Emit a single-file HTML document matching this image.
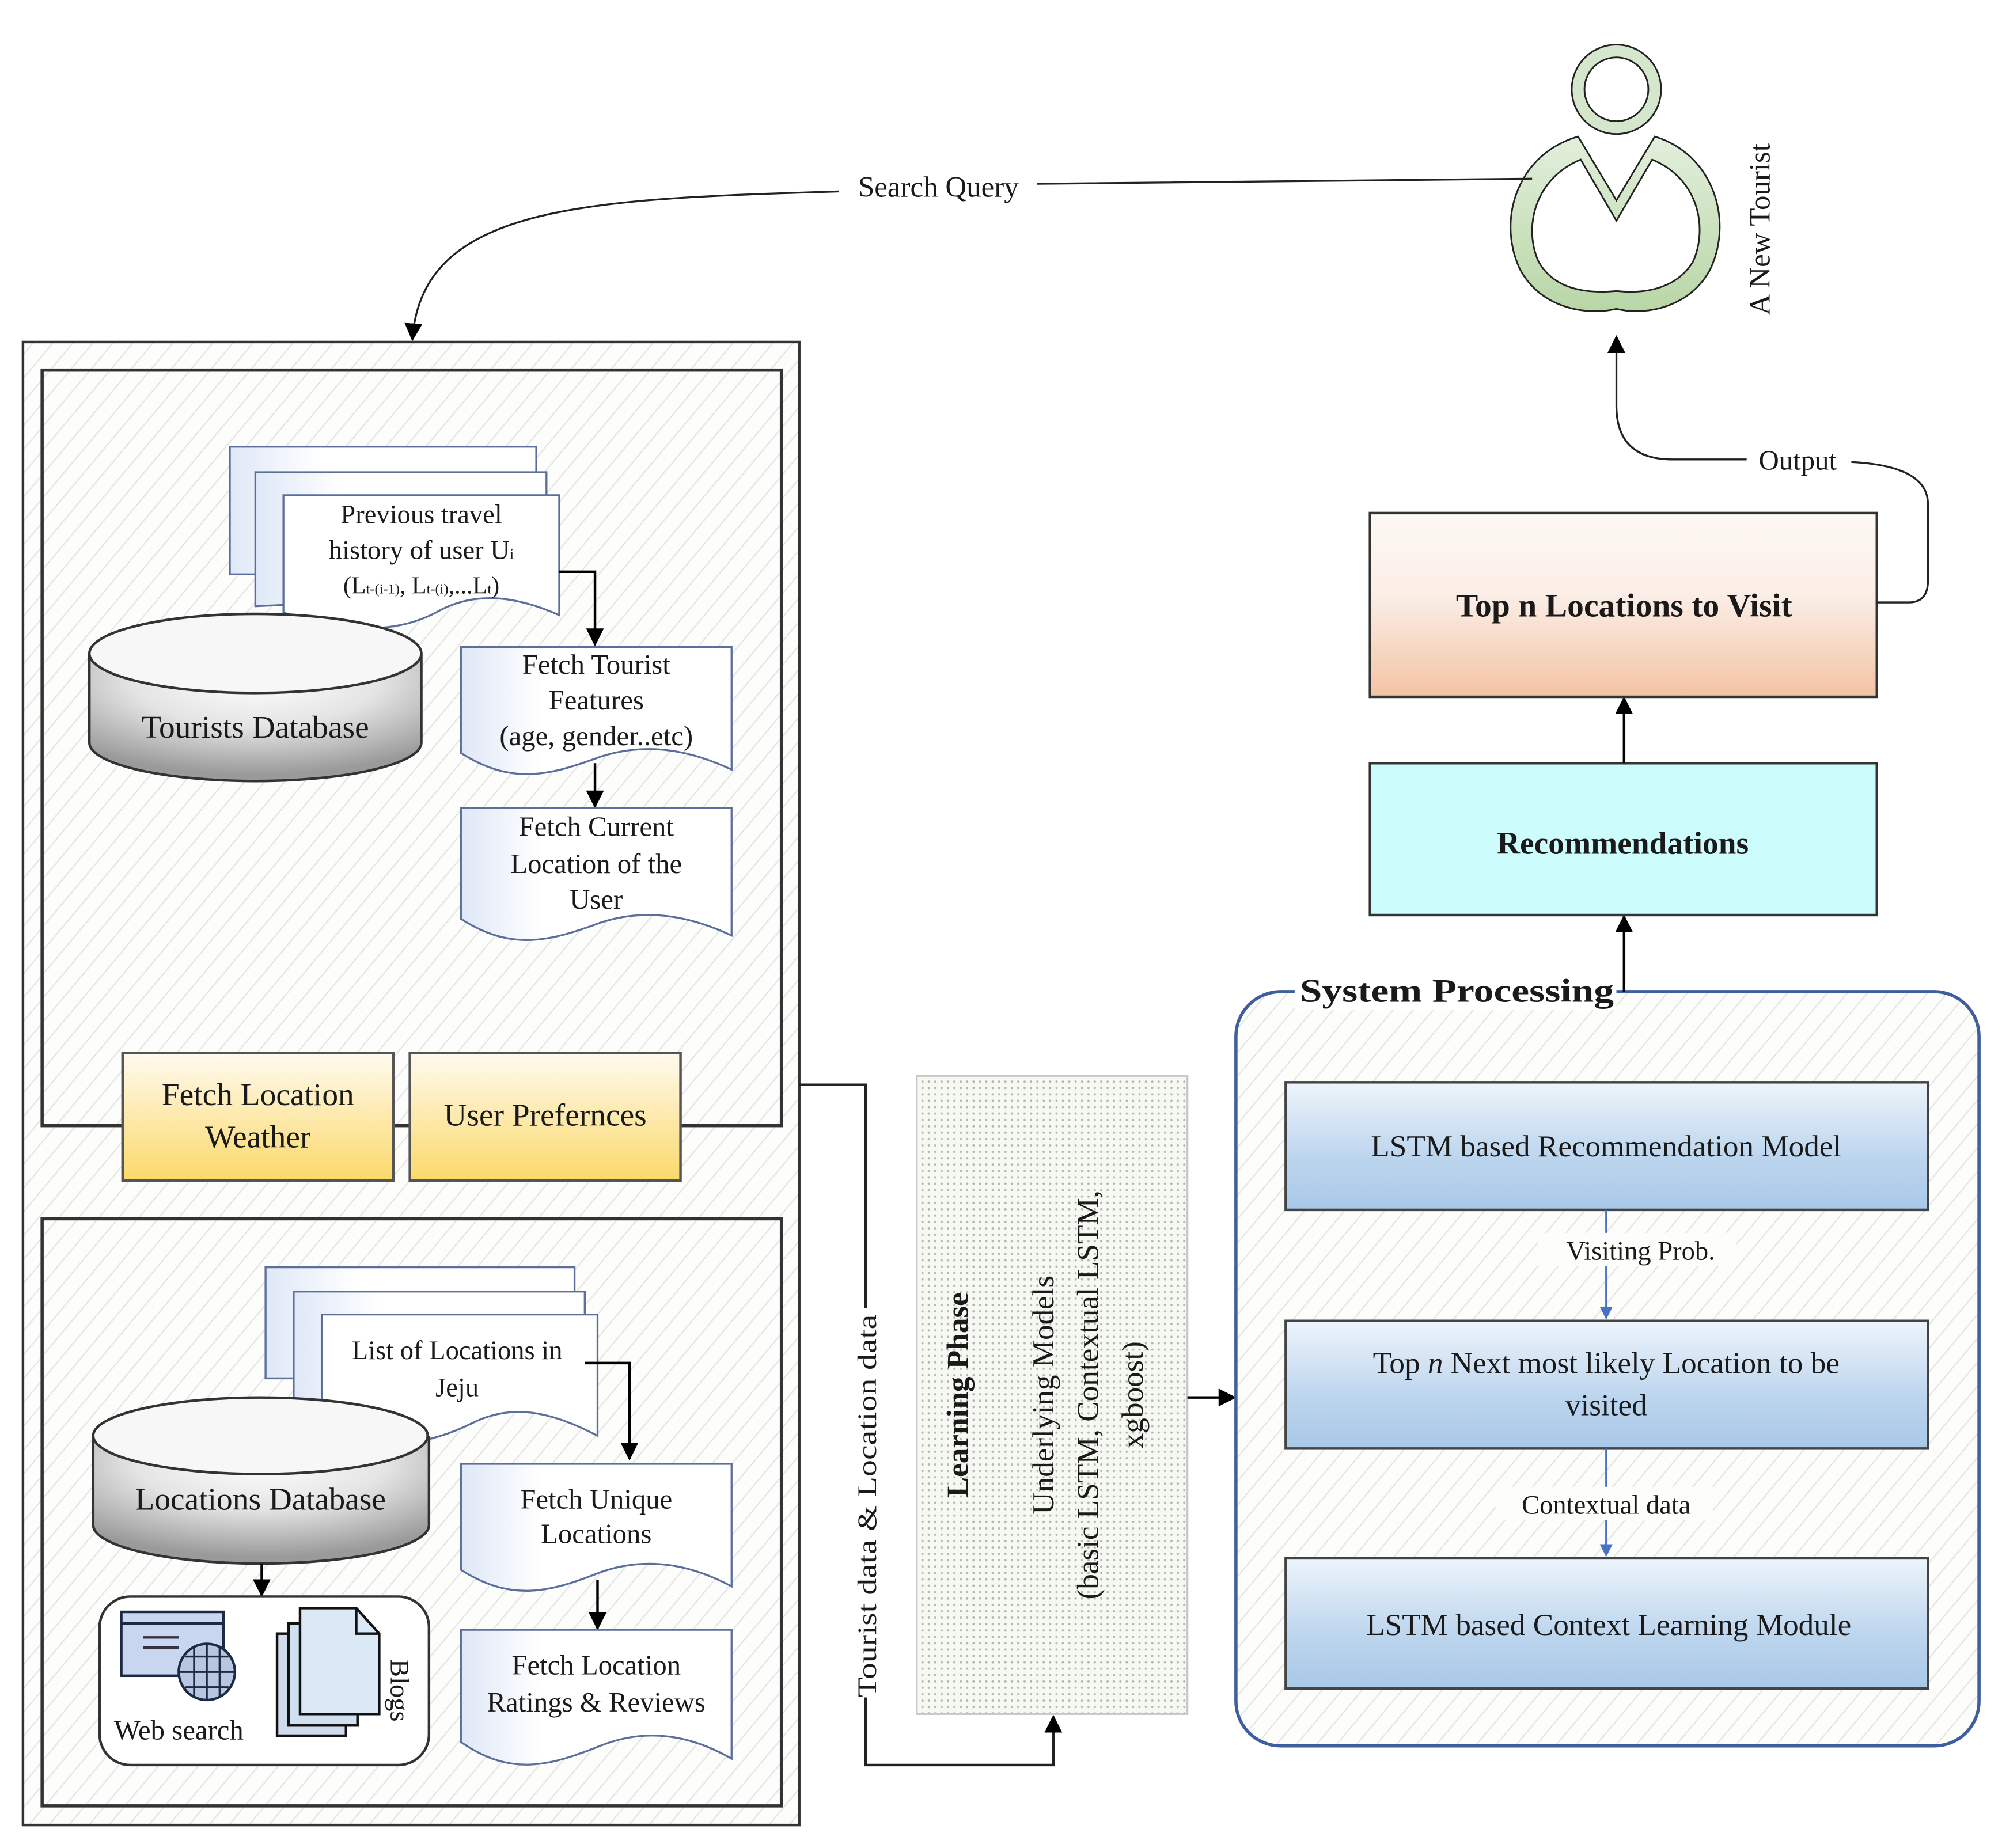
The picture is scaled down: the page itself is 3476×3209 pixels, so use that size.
<!DOCTYPE html>
<html><head><meta charset="utf-8"><style>
html,body{margin:0;padding:0;background:#fff;}
svg{display:block;}
text{font-family:"Liberation Serif",serif;fill:#1a1a1a;}
</style></head><body>
<svg width="3476" height="3209" viewBox="0 0 1568 1448" preserveAspectRatio="none" xmlns="http://www.w3.org/2000/svg">
<defs>
<pattern id="hatch" width="12" height="12" patternUnits="userSpaceOnUse" patternTransform="rotate(40)">
<rect width="12" height="12" fill="#fdfdfb"/><line x1="0" y1="0" x2="0" y2="12" stroke="#e4e4e4" stroke-width="2"/></pattern>
<pattern id="dots" width="5" height="5" patternUnits="userSpaceOnUse">
<rect width="5" height="5" fill="#f6f8f2"/><circle cx="2.5" cy="2.5" r="0.9" fill="#b5b8b0"/></pattern>
<linearGradient id="yel" x1="0" y1="0" x2="0" y2="1"><stop offset="0" stop-color="#fffaf0"/><stop offset="1" stop-color="#fbd96a"/></linearGradient>
<linearGradient id="blu" x1="0" y1="0" x2="0" y2="1"><stop offset="0" stop-color="#eef4fb"/><stop offset="0.6" stop-color="#bcd5ee"/><stop offset="1" stop-color="#a9c8e8"/></linearGradient>
<linearGradient id="pea" x1="0" y1="0" x2="0" y2="1"><stop offset="0" stop-color="#fdf8f4"/><stop offset="0.45" stop-color="#fbeee6"/><stop offset="1" stop-color="#f3c3a4"/></linearGradient>
<radialGradient id="cyl" cx="0.5" cy="0.2" r="0.75"><stop offset="0" stop-color="#ffffff"/><stop offset="0.5" stop-color="#e4e4e4"/><stop offset="1" stop-color="#9a9a9a"/></radialGradient>
<linearGradient id="doc" x1="0" y1="0" x2="1" y2="0"><stop offset="0" stop-color="#dfe8f7"/><stop offset="0.3" stop-color="#fff"/></linearGradient>
<linearGradient id="grn" x1="0" y1="0" x2="0" y2="1"><stop offset="0" stop-color="#e3efdc"/><stop offset="1" stop-color="#b8d6a6"/></linearGradient>
<marker id="arB" viewBox="0 0 10 10" refX="9" refY="5" markerWidth="10" markerHeight="10" orient="auto" markerUnits="userSpaceOnUse"><path d="M0,0 L10,5 L0,10 Z" fill="#4a72c4"/></marker>
<marker id="arL" viewBox="0 0 10 10" refX="9" refY="5" markerWidth="14" markerHeight="14" orient="auto" markerUnits="userSpaceOnUse"><path d="M0,0 L10,5 L0,10 Z" fill="#000"/></marker>
</defs>

<rect x="18" y="268" width="608" height="1162" fill="url(#hatch)" stroke="#333" stroke-width="2"/>
<rect x="33" y="290" width="579" height="592" fill="url(#hatch)" stroke="#333" stroke-width="2.5"/>
<rect x="33" y="955" width="579" height="460" fill="url(#hatch)" stroke="#333" stroke-width="2.5"/>

<g stroke="#5b6f9a" stroke-width="1.5" fill="url(#doc)">
<path d="M180,350 H420 V450 L180,450 Z"/>
<path d="M200,370 H428 V460 C380,470 300,470 200,475 Z"/>
<path d="M222,388 H438 V482 C400,465 370,465 345,478 C310,498 270,495 222,480 Z" fill="#fff"/>
</g>
<text x="330" y="410" font-size="21" text-anchor="middle">Previous travel</text>
<text x="330" y="438" font-size="21" text-anchor="middle">history of user U<tspan font-size="12">i</tspan></text>
<text x="330" y="465" font-size="19" text-anchor="middle">(L<tspan font-size="11">t-(i-1)</tspan>, L<tspan font-size="11">t-(i)</tspan>,...L<tspan font-size="11">t</tspan>)</text>
<path d="M438,448 H466 V505" fill="none" stroke="#000" stroke-width="2" marker-end="url(#arL)"/>

<path d="M70,512 V582 A130,30 0 0 0 330,582 V512" fill="url(#cyl)" stroke="#333" stroke-width="2"/>
<ellipse cx="200" cy="512" rx="130" ry="31" fill="#f7f7f7" stroke="#333" stroke-width="2"/>
<text x="200" y="578" font-size="25" text-anchor="middle">Tourists Database</text>

<path d="M361,507 H573 V603 C545,590 510,580 470,593 C430,608 400,615 361,590 Z" fill="url(#doc)" stroke="#5b6f9a" stroke-width="1.5"/>
<text x="467" y="528" font-size="22" text-anchor="middle">Fetch Tourist</text>
<text x="467" y="556" font-size="22" text-anchor="middle">Features</text>
<text x="467" y="584" font-size="22" text-anchor="middle">(age, gender..etc)</text>
<line x1="466" y1="598" x2="466" y2="632" stroke="#000" stroke-width="2" marker-end="url(#arL)"/>
<path d="M361,633 H573 V733 C545,720 510,710 470,723 C430,738 400,745 361,720 Z" fill="url(#doc)" stroke="#5b6f9a" stroke-width="1.5"/>
<text x="467" y="655" font-size="22" text-anchor="middle">Fetch Current</text>
<text x="467" y="684" font-size="22" text-anchor="middle">Location of the</text>
<text x="467" y="712" font-size="22" text-anchor="middle">User</text>

<rect x="96" y="825" width="212" height="100" fill="url(#yel)" stroke="#555" stroke-width="2"/>
<rect x="321" y="825" width="212" height="100" fill="url(#yel)" stroke="#555" stroke-width="2"/>
<text x="202" y="866" font-size="25" text-anchor="middle">Fetch Location</text>
<text x="202" y="899" font-size="25" text-anchor="middle">Weather</text>
<text x="427" y="882" font-size="25" text-anchor="middle">User Prefernces</text>

<g stroke="#5b6f9a" stroke-width="1.5" fill="url(#doc)">
<path d="M208,993 H450 V1080 L208,1080 Z"/>
<path d="M230,1012 H458 V1090 C400,1100 320,1100 230,1100 Z"/>
<path d="M252,1030 H468 V1125 C430,1105 400,1100 370,1115 C340,1130 300,1140 252,1120 Z" fill="#fff"/>
</g>
<text x="358" y="1065" font-size="21" text-anchor="middle">List of Locations in</text>
<text x="358" y="1094" font-size="21" text-anchor="middle">Jeju</text>
<path d="M458,1068 H493 V1143" fill="none" stroke="#000" stroke-width="2" marker-end="url(#arL)"/>

<path d="M73,1125 V1195 A131,30 0 0 0 336,1195 V1125" fill="url(#cyl)" stroke="#333" stroke-width="2"/>
<ellipse cx="204" cy="1125" rx="131" ry="30" fill="#f7f7f7" stroke="#333" stroke-width="2"/>
<text x="204" y="1183" font-size="25" text-anchor="middle">Locations Database</text>
<line x1="205" y1="1225" x2="205" y2="1250" stroke="#000" stroke-width="2" marker-end="url(#arL)"/>

<rect x="78" y="1251" width="258" height="132" rx="24" fill="#fff" stroke="#333" stroke-width="2"/>
<rect x="95" y="1263" width="80" height="50" fill="#c9d6ef" stroke="#1e2a44" stroke-width="2"/>
<line x1="95" y1="1272" x2="175" y2="1272" stroke="#1e2a44" stroke-width="2"/>
<line x1="112" y1="1283" x2="140" y2="1283" stroke="#334" stroke-width="2"/>
<line x1="112" y1="1291" x2="140" y2="1291" stroke="#334" stroke-width="2"/>
<circle cx="162" cy="1310" r="22" fill="#b8c6e0" stroke="#1e2a44" stroke-width="2"/>
<path d="M140,1310 H184 M162,1288 V1332 M145,1298 H179 M145,1322 H179 M152,1291 V1329 M172,1291 V1329" stroke="#1e2a44" stroke-width="1.5" fill="none"/>
<text x="140" y="1363" font-size="22" text-anchor="middle">Web search</text>
<rect x="217" y="1280" width="54" height="80" fill="#d0dcec" stroke="#111" stroke-width="2"/>
<rect x="226" y="1272" width="54" height="80" fill="#cfe0f0" stroke="#111" stroke-width="2"/>
<path d="M235,1260 H279 L297,1280 V1343 H235 Z" fill="#dbe8f5" stroke="#111" stroke-width="2"/>
<path d="M279,1260 V1280 H297" fill="none" stroke="#111" stroke-width="2"/>
<text transform="translate(306,1300) rotate(90)" font-size="21">Blogs</text>

<path d="M361,1147 H573 V1243 C545,1228 510,1218 470,1232 C430,1248 400,1255 361,1230 Z" fill="url(#doc)" stroke="#5b6f9a" stroke-width="1.5"/>
<text x="467" y="1182" font-size="22" text-anchor="middle">Fetch Unique</text>
<text x="467" y="1209" font-size="22" text-anchor="middle">Locations</text>
<line x1="468" y1="1238" x2="468" y2="1276" stroke="#000" stroke-width="2" marker-end="url(#arL)"/>
<path d="M361,1277 H573 V1378 C545,1362 510,1352 470,1368 C430,1384 400,1392 361,1365 Z" fill="url(#doc)" stroke="#5b6f9a" stroke-width="1.5"/>
<text x="467" y="1312" font-size="22" text-anchor="middle">Fetch Location</text>
<text x="467" y="1341" font-size="22" text-anchor="middle">Ratings &amp; Reviews</text>

<path d="M626,850 H678 V1383 H825 V1345" fill="none" stroke="#222" stroke-width="2" marker-end="url(#arL)"/>
<rect x="668" y="1025" width="22" height="305" fill="#fff"/>
<text transform="translate(686,1330) rotate(-90)" font-size="21" textLength="300" lengthAdjust="spacingAndGlyphs">Tourist data &amp; Location data</text>

<rect x="718" y="843" width="212" height="500" fill="url(#dots)" stroke="#c8c8c8" stroke-width="1.5"/>
<text transform="translate(758,1093) rotate(-90)" font-size="24" font-weight="bold" text-anchor="middle">Learning Phase</text>
<text transform="translate(825,1093) rotate(-90)" font-size="24" text-anchor="middle">Underlying Models</text>
<text transform="translate(860,1093) rotate(-90)" font-size="24" text-anchor="middle">(basic LSTM, Contextual LSTM,</text>
<text transform="translate(895,1093) rotate(-90)" font-size="24" text-anchor="middle">xgboost)</text>
<line x1="930" y1="1095" x2="967" y2="1095" stroke="#000" stroke-width="2" marker-end="url(#arL)"/>

<rect x="968" y="777" width="582" height="591" rx="35" fill="url(#hatch)" stroke="#3e5f9e" stroke-width="2.5"/>
<rect x="1014" y="765" width="252" height="26" fill="#fff"/>
<text x="1018" y="785" font-size="26" font-weight="bold" textLength="246" lengthAdjust="spacingAndGlyphs">System Processing</text>
<rect x="1007" y="848" width="503" height="100" fill="url(#blu)" stroke="#444" stroke-width="2"/>
<text x="1258" y="906" font-size="24" text-anchor="middle">LSTM based Recommendation Model</text>
<line x1="1258" y1="948" x2="1258" y2="1033" stroke="#4a72c4" stroke-width="1.5" marker-end="url(#arB)"/>
<rect x="1205" y="966" width="155" height="26" fill="#fdfdfb"/>
<text x="1285" y="987" font-size="21" text-anchor="middle">Visiting Prob.</text>
<rect x="1007" y="1035" width="503" height="100" fill="url(#blu)" stroke="#444" stroke-width="2"/>
<text x="1258" y="1076" font-size="24" text-anchor="middle">Top <tspan font-style="italic">n</tspan> Next most likely Location to be</text>
<text x="1258" y="1109" font-size="24" text-anchor="middle">visited</text>
<line x1="1258" y1="1135" x2="1258" y2="1219" stroke="#4a72c4" stroke-width="1.5" marker-end="url(#arB)"/>
<rect x="1172" y="1165" width="170" height="26" fill="#fdfdfb"/>
<text x="1258" y="1186" font-size="21" text-anchor="middle">Contextual data</text>
<rect x="1007" y="1221" width="503" height="102" fill="url(#blu)" stroke="#444" stroke-width="2"/>
<text x="1260" y="1281" font-size="24" text-anchor="middle">LSTM based Context Learning Module</text>

<line x1="1272" y1="777" x2="1272" y2="718" stroke="#000" stroke-width="2" marker-end="url(#arL)"/>
<rect x="1073" y="598" width="397" height="119" fill="#ccfcfc" stroke="#333" stroke-width="2"/>
<text x="1271" y="669" font-size="25" font-weight="bold" text-anchor="middle">Recommendations</text>
<line x1="1272" y1="598" x2="1272" y2="547" stroke="#000" stroke-width="2" marker-end="url(#arL)"/>
<rect x="1073" y="402" width="397" height="144" fill="url(#pea)" stroke="#333" stroke-width="2"/>
<text x="1272" y="483" font-size="26" font-weight="bold" text-anchor="middle">Top n Locations to Visit</text>

<path d="M1470,472 H1495 Q1510,472 1510,455 V395 Q1510,365 1450,362 M1368,360 H1310 Q1266,360 1266,318 V264" fill="none" stroke="#222" stroke-width="1.5" marker-end="url(#arL)"/>
<text x="1408" y="368" font-size="22" text-anchor="middle">Output</text>

<circle cx="1266" cy="70" r="30" fill="none" stroke="#d4e6cb" stroke-width="10"/>
<circle cx="1266" cy="70" r="25" fill="#fff" stroke="#222" stroke-width="1.3"/>
<circle cx="1266" cy="70" r="35" fill="none" stroke="#222" stroke-width="1.3"/>
<path d="M1236,107 L1266,157 L1296,107 C1340,120 1358,170 1340,210 C1325,240 1290,248 1266,242 C1240,248 1205,240 1190,210 C1172,170 1190,120 1236,107 Z" fill="url(#grn)" stroke="#222" stroke-width="1.3"/>
<path d="M1238,125 L1266,173 L1294,125 C1330,140 1338,178 1326,205 C1312,228 1285,230 1266,228 C1245,230 1218,228 1205,205 C1193,178 1202,140 1238,125 Z" fill="#fff" stroke="#222" stroke-width="1.3"/>
<text transform="translate(1386,247) rotate(-90)" font-size="23">A New Tourist</text>

<path d="M1200,140 L812,144 M657,150 C460,156 330,160 323,266" fill="none" stroke="#222" stroke-width="1.5" marker-end="url(#arL)"/>
<text x="735" y="154" font-size="23" text-anchor="middle">Search Query</text>
</svg>
</body></html>
